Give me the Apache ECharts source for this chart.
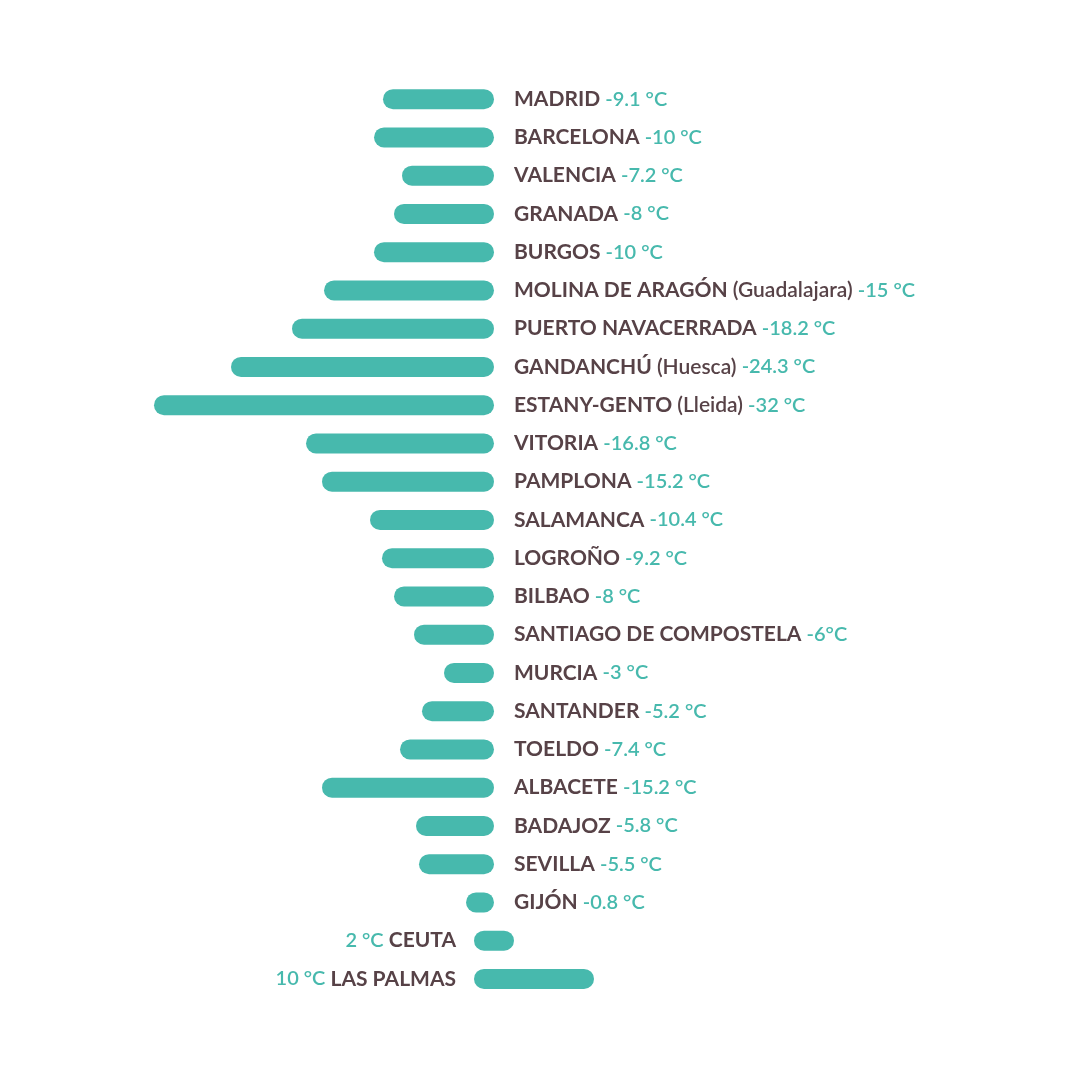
<!DOCTYPE html>
<html>
<head>
<meta charset="utf-8">
<script src="https://cdn.jsdelivr.net/npm/echarts@6/dist/echarts.min.js"></script>
<style>html,body{margin:0;padding:0;background:#fff}#c{width:1080px;height:1080px}</style>
</head>
<body>
<div id="c"></div>
<script>
const cities = ["MADRID","BARCELONA","VALENCIA","GRANADA","BURGOS","MOLINA DE ARAGÓN","PUERTO NAVACERRADA","GANDANCHÚ","ESTANY-GENTO","VITORIA","PAMPLONA","SALAMANCA","LOGROÑO","BILBAO","SANTIAGO DE COMPOSTELA","MURCIA","SANTANDER","TOELDO","ALBACETE","BADAJOZ","SEVILLA","GIJÓN","CEUTA","LAS PALMAS"];
const notes = ["","","","","","(Guadalajara)","","(Huesca)","(Lleida)","","","","","","","","","","","","","","",""];
const temps = [-9.1,-10,-7.2,-8,-10,-15,-18.2,-24.3,-32,-16.8,-15.2,-10.4,-9.2,-8,-6,-3,-5.2,-7.4,-15.2,-5.8,-5.5,-0.8,2,10];
const tempLabels = ["-9.1 °C","-10 °C","-7.2 °C","-8 °C","-10 °C","-15 °C","-18.2 °C","-24.3 °C","-32 °C","-16.8 °C","-15.2 °C","-10.4 °C","-9.2 °C","-8 °C","-6°C","-3 °C","-5.2 °C","-7.4 °C","-15.2 °C","-5.8 °C","-5.5 °C","-0.8 °C","2 °C","10 °C"];

const TEAL = '#47b9ad';
const BROWN = '#574247';
const chart = echarts.init(document.getElementById('c'), null, {renderer:'canvas'});
const rich = {
  n: {fontFamily:'Lato', fontWeight:'bold', fontSize:21, fill:BROWN, color:BROWN},
  p: {fontFamily:'Lato', fontWeight:600, fontSize:21, fill:BROWN, color:BROWN},
  v: {fontFamily:'Lato', fontWeight:600, fontSize:20, fill:TEAL, color:TEAL}
};
chart.setOption({
  animation:false,
  grid:{left:84, right:96, top:80, height:918},
  xAxis:{type:'value', min:-40, max:50, show:false},
  yAxis:{type:'category', data:cities, inverse:true, show:false},
  series:[{
    type:'custom',
    data: temps.map((t,i)=>[i,t]),
    encode:{x:1,y:0},
    renderItem:function(params, api){
      const i = api.value(0), v = api.value(1);
      const p0 = api.coord([0, i]);
      const p1 = api.coord([v, i]);
      let txt, lx, align;
      if (v < 0) {
        txt = '{n|' + cities[i] + '}' + (notes[i] ? ' {p|' + notes[i] + '}' : '') + ' {v|' + tempLabels[i] + '}';
        lx = p0[0] + 30; align = 'left';
      } else {
        txt = '{v|' + tempLabels[i] + '} {n|' + cities[i] + '}';
        lx = p0[0] - 28; align = 'right';
      }
      return {
        type:'group',
        children:[
          {type:'line', shape:{x1:p0[0], y1:p0[1], x2:p1[0], y2:p0[1]},
           style:{stroke:TEAL, lineWidth:20, lineCap:'round'}},
          {type:'text', x:lx, y:p0[1],
           style:{text:txt, rich:rich, align:align, verticalAlign:'middle',
                  fontFamily:'Lato', fontSize:20}}
        ]
      };
    }
  }]
});
</script>
</body>
</html>
